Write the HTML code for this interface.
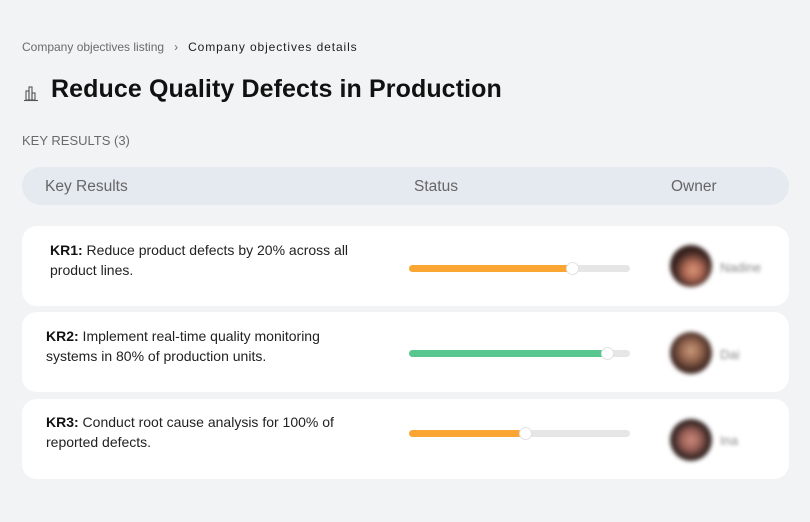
<!DOCTYPE html>
<html><head><meta charset="utf-8">
<style>
*{margin:0;padding:0;box-sizing:border-box}
html,body{width:810px;height:522px;overflow:hidden;background:#f2f3f5;font-family:"Liberation Sans",sans-serif;}
.abs{position:absolute}
.bc{left:22px;top:40px;font-size:12px;color:#6b6b6b;white-space:nowrap}
.bc b{font-weight:normal;color:#1e1e1e;letter-spacing:0.9px}
.title{left:51px;top:75px;font-size:25px;font-weight:bold;color:#111;white-space:nowrap;letter-spacing:0.1px}
.kr{left:22px;top:133px;font-size:13px;color:#6a6a6a}
.hdr{left:22px;top:167px;width:767px;height:38px;border-radius:19px;background:#e5e9f0}
.hdr span{position:absolute;top:11px;font-size:15.5px;color:#666}
.card{left:22px;width:767px;height:80px;background:#fff;border-radius:15px}
.txt{position:absolute;font-size:14px;line-height:20px;color:#222;width:310px}
.txt b{color:#111}
.bar{position:absolute;left:387px;width:221px;height:7px;border-radius:4px;background:#e6e6e6}
.fill{position:absolute;left:0;top:0;height:7px;border-radius:4px}
.knob{position:absolute;top:-3px;width:13px;height:13px;border-radius:50%;background:#fff;border:1px solid #e2e2e2}
.av{position:absolute;left:648px;width:42px;height:42px;border-radius:50%;filter:blur(2px)}
.nm{position:absolute;left:698px;font-size:13px;color:#888;filter:blur(1.8px)}
</style></head><body>
<div class="abs bc">Company objectives listing&nbsp;&nbsp;&nbsp;›&nbsp;&nbsp;&nbsp;<b>Company objectives details</b></div>
<svg class="abs" style="left:23px;top:84px" width="16" height="18" viewBox="0 0 16 18">
<g fill="none" stroke="#555" stroke-width="1.1">
<rect x="3" y="7" width="3" height="9"/><rect x="6" y="3" width="3" height="13"/><rect x="9" y="9" width="3" height="7"/>
<line x1="1" y1="16.5" x2="15" y2="16.5"/></g></svg>
<div class="abs title">Reduce Quality Defects in Production</div>
<div class="abs kr">KEY RESULTS (3)</div>
<div class="abs hdr"><span style="left:23px">Key Results</span><span style="left:392px">Status</span><span style="left:649px">Owner</span></div>

<div class="abs card" style="top:226px">
<div class="txt" style="left:28px;top:14px"><b>KR1:</b> Reduce product defects by 20% across all product lines.</div>
<div class="bar" style="top:39px"><div class="fill" style="width:163px;background:#fba633"></div><div class="knob" style="left:157px"></div></div>
<div class="av" style="top:19px;background:radial-gradient(circle at 55% 60%,#d9967a 0,#b06a55 25%,#3a2420 55%,#2a1a18 100%)"></div>
<div class="nm" style="top:34px">Nadine</div>
</div>

<div class="abs card" style="top:312px">
<div class="txt" style="left:24px;top:14px"><b>KR2:</b> Implement real-time quality monitoring systems in 80% of production units.</div>
<div class="bar" style="top:38px"><div class="fill" style="width:198px;background:#58c68f"></div><div class="knob" style="left:192px"></div></div>
<div class="av" style="top:20px;background:radial-gradient(circle at 50% 45%,#c99a7c 0,#9a6a52 30%,#4a3028 60%,#3a2622 100%)"></div>
<div class="nm" style="top:35px">Dai</div>
</div>

<div class="abs card" style="top:399px">
<div class="txt" style="left:24px;top:13px"><b>KR3:</b> Conduct root cause analysis for 100% of reported defects.</div>
<div class="bar" style="top:31px"><div class="fill" style="width:116px;background:#fba633"></div><div class="knob" style="left:110px"></div></div>
<div class="av" style="top:20px;background:radial-gradient(circle at 50% 50%,#c98a7a 0,#a0645a 30%,#3a2826 60%,#2e2020 100%)"></div>
<div class="nm" style="top:34px">Ina</div>
</div>
</body></html>
